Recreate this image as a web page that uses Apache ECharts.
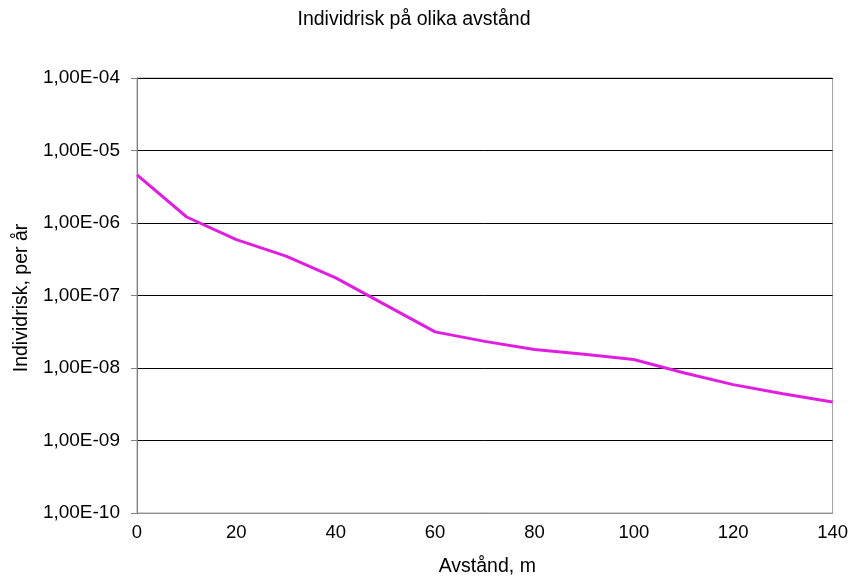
<!DOCTYPE html>
<html>
<head>
<meta charset="utf-8">
<script src="https://cdn.jsdelivr.net/npm/echarts@6/dist/echarts.min.js"></script>
<style>html,body{margin:0;padding:0;background:#fff;}#c{width:851px;height:585px;}</style>
</head>
<body>
<div id="c"></div>
<script>
const distances = [0, 10, 20, 30, 40, 60, 70, 80, 90, 100, 110, 120, 130, 140];
const risk = [4.6e-6, 1.21e-6, 5.9e-7, 3.5e-7, 1.75e-7, 3.15e-8, 2.33e-8, 1.8e-8, 1.55e-8, 1.31e-8, 8.6e-9, 5.9e-9, 4.4e-9, 3.4e-9];
const yTickLabels = ['1,00E-10','1,00E-09','1,00E-08','1,00E-07','1,00E-06','1,00E-05','1,00E-04'];
const yTickExponents = [-10, -9, -8, -7, -6, -5, -4];
const xTicks = [0, 20, 40, 60, 80, 100, 120, 140];

const chart = echarts.init(document.getElementById('c'));
const font = 'Liberation Sans, Arial, sans-serif';
chart.setOption({
  animation: false,
  backgroundColor: '#fff',
  title: {
    text: 'Individrisk på olika avstånd',
    left: 414, top: 10, textAlign: 'center', padding: 0,
    textStyle: {fontFamily: font, fontSize: 19.5, fontWeight: 'normal', color: '#000'}
  },
  grid: {left: 137, right: 17, top: 78, bottom: 72, show: true, borderColor: '#a0a0a0', borderWidth: 1, backgroundColor: 'transparent'},
  xAxis: {
    type: 'value', min: 0, max: 140, interval: 20,
    name: 'Avstånd, m', nameLocation: 'middle', nameGap: 44,
    nameTextStyle: {fontFamily: font, fontSize: 19.5, color: '#000', padding: [0, 0, 0, 5]},
    axisLine: {show: true, lineStyle: {color: '#909090', width: 1}},
    axisTick: {show: false},
    splitLine: {show: false},
    axisLabel: {fontFamily: font, fontSize: 18.5, color: '#000', margin: 10,
      formatter: v => xTicks.indexOf(v) >= 0 ? String(v) : ''}
  },
  yAxis: {
    type: 'log', logBase: 10, min: 1e-10, max: 1e-4,
    name: 'Individrisk, per år', nameLocation: 'middle', nameGap: 103, nameRotate: 90,
    nameTextStyle: {fontFamily: font, fontSize: 19.5, color: '#000', padding: [0, 5, 0, 0]},
    axisLine: {show: true, lineStyle: {color: '#808080', width: 1}},
    axisTick: {show: true, inside: false, length: 6, lineStyle: {color: '#808080'}},
    splitLine: {show: true, lineStyle: {color: '#000', width: 1}},
    minorTick: {show: false},
    axisLabel: {fontFamily: font, fontSize: 19, color: '#000', margin: 17,
      formatter: v => {
        const e = Math.round(Math.log10(v));
        const i = yTickExponents.indexOf(e);
        return i >= 0 ? yTickLabels[i] : '';
      }}
  },
  series: [{
    type: 'line',
    data: distances.map((d, i) => [d, risk[i]]),
    showSymbol: false,
    symbol: 'none',
    lineStyle: {color: '#e01ee0', width: 3},
    itemStyle: {color: '#e01ee0'}
  }]
});
</script>
</body>
</html>
